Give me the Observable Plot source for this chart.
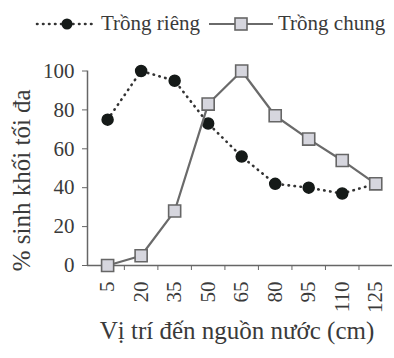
<!DOCTYPE html>
<html>
<head>
<meta charset="utf-8">
<script src="https://cdn.jsdelivr.net/npm/d3@7"></script>
<script src="https://cdn.jsdelivr.net/npm/@observablehq/plot@0.6"></script>
<style>
  body { margin: 0; background: #fff; }
  #wrap { width: 394px; height: 358px; position: relative; font-family: "Liberation Serif", serif; color: #3a3a3a; }
  #legend { height: 50px; position: relative; font-size: 21px; }
  #legend .item { position: absolute; top: 11px; display: flex; align-items: center; white-space: nowrap; }
  #legend svg { display: block; }
  #chart svg { display: block; }
</style>
</head>
<body>
<div id="wrap">
  <div id="legend"></div>
  <div id="chart"></div>
</div>
<script>
const categories = [5, 20, 35, 50, 65, 80, 95, 110, 125];
const rieng = [75, 100, 95, 73, 56, 42, 40, 37, 42];
const chung = [0, 5, 28, 83, 100, 77, 65, 54, 42];
const yTicks = [0, 20, 40, 60, 80, 100];
const seriesNames = ["Trồng riêng", "Trồng chung"];
const xLabel = "Vị trí đến nguồn nước (cm)";
const yLabel = "% sinh khối tối đa";

const dataR = categories.map((c, i) => ({x: c, y: rieng[i]}));
const dataC = categories.map((c, i) => ({x: c, y: chung[i]}));
const boundaries = categories.slice(0, -1).map((c, i) => (c + categories[i + 1]) / 2);

const textColor = "#3a3a3a";
const axisColor = "#666";

const chart = Plot.plot({
  width: 394,
  height: 308,
  marginTop: 20.5,
  marginBottom: 93,
  marginLeft: 87,
  marginRight: 2,
  style: {fontFamily: "Liberation Serif, serif", fontSize: "21px", color: textColor, background: "#fff"},
  x: {type: "linear", domain: [-4, 132.5]},
  y: {domain: [0, 100]},
  marks: [
    Plot.ruleY([0], {stroke: axisColor, strokeWidth: 1.5}),
    Plot.ruleX([-4], {y1: 0, y2: 100, stroke: axisColor, strokeWidth: 1.5}),
    Plot.axisY({ticks: yTicks, tickSize: 5, tickPadding: 8, stroke: axisColor, fontSize: 21, label: null}),
    Plot.axisX({ticks: boundaries, tickSize: 5, tickFormat: () => "", stroke: axisColor, label: null}),
    Plot.axisX({ticks: categories, tickSize: 0, tickPadding: 16, tickRotate: -90, fontSize: 21,
      tickFormat: d => String(d), label: null}),
    Plot.text([yLabel], {frameAnchor: "left", textAnchor: "middle", rotate: -90, dx: -66, dy: 12, fontSize: 25, fill: textColor}),
    Plot.text([xLabel], {frameAnchor: "bottom", dy: 73, dx: -3, fontSize: 25, fill: textColor}),
    Plot.line(dataR, {x: "x", y: "y", stroke: "#333", strokeWidth: 2.6, strokeDasharray: "0.5,5.5", strokeLinecap: "round"}),
    Plot.dot(dataR, {x: "x", y: "y", r: 5.5, fill: "#151a18", stroke: "#151a18"}),
    Plot.line(dataC, {x: "x", y: "y", stroke: "#6a6a6a", strokeWidth: 2.2}),
    Plot.dot(dataC, {x: "x", y: "y", symbol: "square", r: 6.8, fill: "#d6d6de", stroke: "#666", strokeWidth: 1.6})
  ]
});
document.getElementById("chart").appendChild(chart);

// Legend
const legend = document.getElementById("legend");
function addItem(left, glyph, name) {
  const div = document.createElement("div");
  div.className = "item";
  div.style.left = left + "px";
  div.innerHTML = glyph + `<span style="margin-left:3px">${name}</span>`;
  legend.appendChild(div);
}
addItem(34,
  `<svg width="64" height="20"><line x1="3" y1="10" x2="61" y2="10" stroke="#333" stroke-width="2.6" stroke-dasharray="0.5,5.5" stroke-linecap="round"/><circle cx="33" cy="10" r="5.5" fill="#151a18"/></svg>`,
  seriesNames[0]);
addItem(207,
  `<svg width="68" height="20"><line x1="2" y1="10" x2="66" y2="10" stroke="#6a6a6a" stroke-width="2.2"/><rect x="28" y="4" width="12" height="12" fill="#d6d6de" stroke="#666" stroke-width="1.6"/></svg>`,
  seriesNames[1]);
</script>
</body>
</html>
